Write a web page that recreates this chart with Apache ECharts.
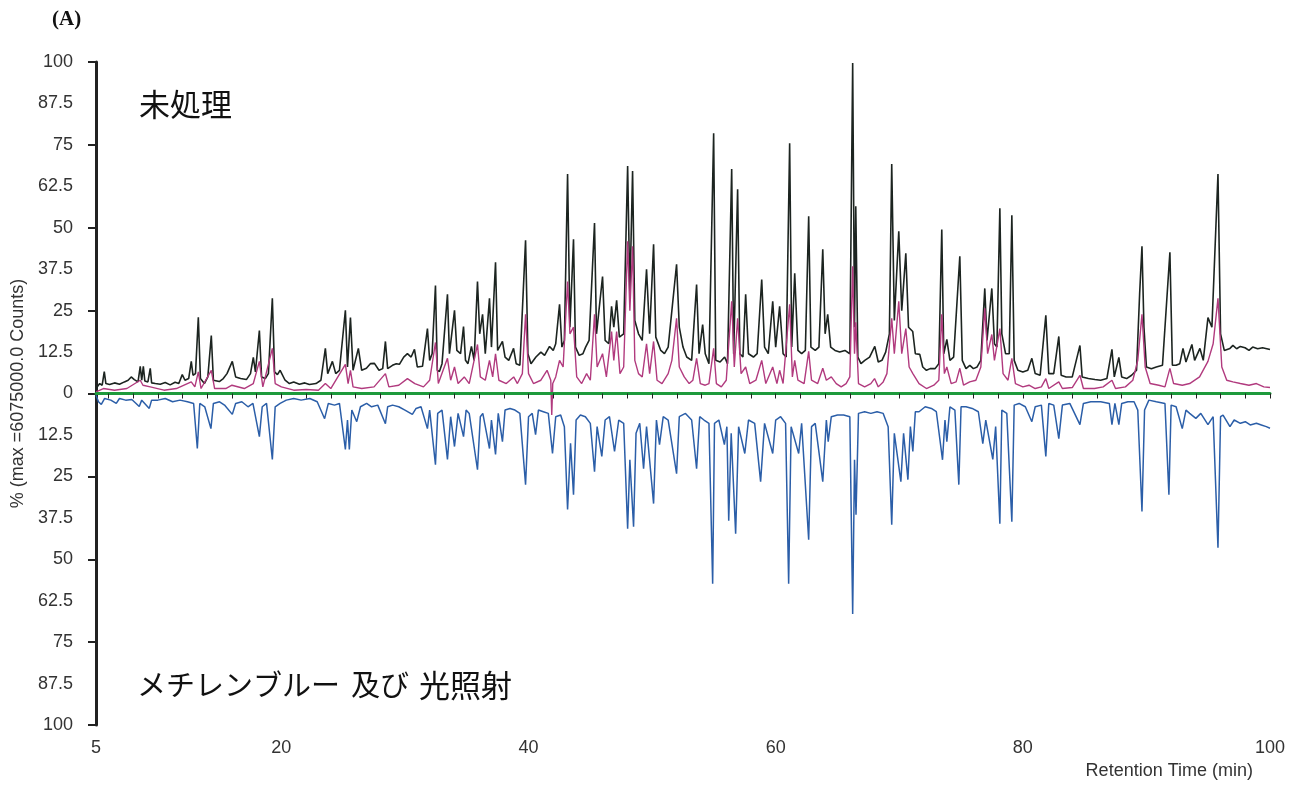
<!DOCTYPE html>
<html>
<head>
<meta charset="utf-8">
<script src="https://cdn.jsdelivr.net/npm/echarts@6/dist/echarts.min.js"></script>
<style>
html,body{margin:0;padding:0;background:#fff;}
#chart{width:1296px;height:786px;}
</style>
</head>
<body>
<div id="chart"></div>
<script>
// ---- data (retention time in min, intensity in % of max) ----
const xLabelValues = [5, 20, 40, 60, 80, 100];
const xTickValues = [6,8,10,12,14,16,18,20,22,24,26,28,30,32,34,36,38,40,42,44,46,48,50,52,54,56,58,60,62,64,66,68,70,72,74,76,78,80,82,84,86,88,90,92,94,96,98,100];
const yTickValues = [-100,-75,-50,-25,0,25,50,75,100];

// untreated (black)
const blackTrace = [
[5.0,1.5],[5.3,3.0],[5.5,2.5],[5.67,6.6],[5.8,3.0],[6.1,2.7],[6.5,3.2],[6.9,2.8],[7.3,3.5],[7.6,4.0],[7.85,5.0],[8.1,4.2],[8.4,3.5],[8.58,8.2],[8.7,4.0],[8.83,8.2],[8.95,3.8],[9.2,3.5],[9.39,7.6],[9.5,3.2],[9.8,3.0],[10.2,2.8],[10.6,3.3],[11.0,2.6],[11.4,3.4],[11.7,3.0],[11.98,5.7],[12.2,4.0],[12.5,4.5],[12.71,9.7],[12.85,5.5],[13.05,6.0],[13.28,23.0],[13.45,4.5],[13.77,3.0],[14.05,5.0],[14.33,17.5],[14.5,4.0],[14.98,3.6],[15.3,4.5],[15.6,6.0],[16.03,9.7],[16.3,5.0],[16.7,4.5],[17.17,4.2],[17.5,6.0],[17.73,10.9],[17.9,6.5],[18.22,19.0],[18.4,5.0],[18.7,4.5],[18.95,6.0],[19.27,28.7],[19.45,6.5],[19.68,5.7],[19.9,7.0],[20.3,4.0],[20.65,3.0],[21.0,3.5],[21.46,2.8],[21.9,3.2],[22.27,2.7],[22.8,3.0],[23.2,4.0],[23.56,13.6],[23.75,6.0],[24.13,9.7],[24.4,6.0],[24.7,7.0],[25.18,25.1],[25.35,8.0],[25.59,22.9],[25.8,7.0],[26.23,13.6],[26.5,7.0],[26.88,7.6],[27.2,9.0],[27.53,9.1],[27.9,7.0],[28.2,7.5],[28.42,15.7],[28.6,7.5],[28.99,8.5],[29.3,9.0],[29.55,8.8],[29.9,11.0],[30.2,12.0],[30.5,11.0],[30.77,13.3],[31.0,8.0],[31.42,8.2],[31.82,19.6],[32.0,10.0],[32.2,12.0],[32.47,32.6],[32.62,7.0],[32.79,6.6],[33.0,9.0],[33.44,29.9],[33.6,12.0],[34.01,25.1],[34.2,13.0],[34.5,12.0],[34.74,20.2],[34.9,10.0],[35.1,9.0],[35.38,14.2],[35.6,10.0],[35.87,33.8],[36.05,18.0],[36.28,23.9],[36.5,12.0],[36.84,28.7],[37.0,14.0],[37.33,39.6],[37.5,13.0],[37.89,15.7],[38.1,11.0],[38.4,10.0],[38.79,13.6],[39.0,9.0],[39.3,8.5],[39.76,46.2],[39.95,12.0],[40.2,9.0],[40.6,11.0],[41.0,12.5],[41.3,11.5],[41.7,14.2],[42.0,13.0],[42.2,15.0],[42.51,26.9],[42.7,14.0],[42.9,16.0],[43.16,66.2],[43.35,20.0],[43.64,46.5],[43.8,14.0],[44.1,11.5],[44.4,12.0],[44.62,14.0],[44.9,16.0],[45.34,51.4],[45.5,18.0],[45.99,35.3],[46.2,16.0],[46.5,15.0],[46.72,26.3],[46.9,20.0],[47.13,28.1],[47.35,17.0],[47.7,18.0],[48.02,68.6],[48.2,30.0],[48.42,67.1],[48.6,22.0],[48.9,18.0],[49.2,16.0],[49.55,37.5],[49.8,18.0],[50.12,45.0],[50.3,17.0],[50.7,13.0],[51.0,12.0],[51.3,14.0],[51.98,39.0],[52.2,20.0],[52.5,14.0],[52.8,11.0],[53.2,10.0],[53.6,32.9],[53.8,12.0],[54.09,20.8],[54.3,12.0],[54.6,9.0],[54.98,78.5],[55.15,10.0],[55.5,9.5],[55.87,11.0],[56.1,9.0],[56.44,67.7],[56.6,12.0],[56.92,61.6],[57.1,12.0],[57.35,11.0],[57.57,29.9],[57.8,12.0],[58.2,11.0],[58.5,12.0],[58.87,34.4],[59.1,14.0],[59.4,12.0],[59.76,27.8],[60.0,14.0],[60.32,26.3],[60.6,12.0],[60.85,11.0],[61.13,75.5],[61.3,14.0],[61.54,36.3],[61.8,13.0],[62.1,12.0],[62.4,13.0],[62.67,53.5],[62.85,14.0],[63.2,13.0],[63.5,14.0],[63.81,43.5],[64.0,18.0],[64.21,23.9],[64.45,14.0],[64.8,13.0],[65.18,12.5],[65.6,13.0],[66.0,12.0],[66.23,99.7],[66.38,20.0],[66.48,56.5],[66.65,11.0],[66.9,9.0],[67.21,10.0],[67.6,11.0],[68.02,14.2],[68.3,9.5],[68.6,10.0],[68.9,12.5],[69.2,18.0],[69.39,69.2],[69.6,22.0],[69.96,48.9],[70.2,25.0],[70.53,42.3],[70.75,20.0],[71.09,18.7],[71.3,12.0],[71.66,11.8],[71.9,8.0],[72.2,7.0],[72.5,7.5],[72.9,7.5],[73.2,9.0],[73.44,49.5],[73.6,12.0],[73.85,16.3],[74.1,10.0],[74.4,11.0],[74.9,41.4],[75.1,10.0],[75.4,7.5],[75.71,8.5],[76.0,7.5],[76.3,8.0],[76.6,10.0],[76.92,31.7],[77.1,16.0],[77.49,31.7],[77.7,15.0],[77.9,14.0],[78.14,55.9],[78.3,18.0],[78.6,12.0],[78.9,12.0],[79.11,53.8],[79.3,10.0],[79.6,7.0],[80.0,6.5],[80.4,7.0],[80.73,10.6],[81.0,6.0],[81.4,5.5],[81.86,23.6],[82.1,6.0],[82.5,6.0],[82.91,17.2],[83.1,5.5],[83.5,5.0],[84.0,5.0],[84.62,14.5],[84.8,5.0],[85.3,4.5],[85.83,4.2],[86.3,4.0],[86.8,4.5],[87.21,13.3],[87.4,5.0],[87.77,10.9],[88.0,5.0],[88.4,4.5],[88.8,5.5],[89.2,7.0],[89.45,30.0],[89.64,44.4],[89.8,20.0],[90.0,8.0],[90.4,7.5],[90.8,8.0],[91.3,8.5],[91.9,42.6],[92.1,8.5],[92.4,8.5],[92.7,9.0],[92.96,13.6],[93.2,9.5],[93.68,14.8],[93.9,10.0],[94.33,13.6],[94.6,10.0],[94.98,22.9],[95.3,20.0],[95.79,66.2],[96.0,18.0],[96.3,13.0],[96.76,13.6],[97.0,14.5],[97.3,13.5],[97.6,14.2],[97.98,13.8],[98.3,13.0],[98.6,14.0],[99.0,13.5],[99.4,13.8],[100,13.3]
];

// magenta trace
const magentaTrace = [
[5.0,0.5],[5.6,1.5],[6.5,1.0],[7.5,1.5],[8.58,4.0],[8.8,2.5],[9.39,2.0],[10.5,1.0],[11.5,1.5],[12.71,3.5],[13.0,2.0],[13.28,6.5],[13.5,1.5],[14.33,7.0],[14.6,1.5],[15.5,1.5],[16.0,2.5],[17.0,1.5],[17.73,3.0],[18.22,9.7],[18.5,2.0],[19.27,13.6],[19.5,3.0],[20.0,2.0],[21.0,1.0],[22.0,1.2],[23.0,1.0],[23.56,3.0],[24.0,1.5],[25.18,8.8],[25.4,3.0],[25.59,7.0],[25.8,2.0],[26.5,1.5],[27.5,2.0],[28.42,6.0],[28.7,2.0],[29.5,2.5],[30.2,4.5],[30.8,3.0],[31.5,2.0],[32.0,4.0],[32.47,15.4],[32.7,3.0],[33.44,10.6],[33.7,4.0],[34.01,8.0],[34.3,3.0],[34.8,5.0],[35.2,3.0],[35.87,14.8],[36.1,5.0],[36.5,4.0],[36.84,10.0],[37.1,5.0],[37.33,12.0],[37.6,4.0],[38.2,3.0],[38.8,5.0],[39.1,3.0],[39.5,6.0],[39.76,23.9],[40.0,6.0],[40.4,3.0],[41.0,4.0],[41.5,7.0],[41.8,4.0],[41.88,-6.5],[41.96,3.0],[42.2,5.0],[42.51,10.0],[42.8,8.0],[43.16,33.8],[43.35,18.0],[43.64,20.0],[43.9,5.0],[44.3,3.0],[44.7,6.0],[45.0,4.0],[45.34,23.9],[45.55,8.0],[45.99,12.0],[46.3,5.0],[46.72,18.7],[46.9,10.0],[47.13,18.7],[47.4,6.0],[47.7,8.0],[48.02,45.9],[48.2,25.0],[48.42,44.4],[48.6,10.0],[48.9,6.0],[49.2,5.0],[49.55,15.0],[49.8,6.0],[50.12,15.7],[50.4,4.0],[50.8,3.0],[51.3,6.0],[51.6,10.0],[51.98,22.7],[52.2,8.0],[52.6,5.0],[53.0,3.0],[53.3,4.0],[53.6,10.6],[53.9,3.0],[54.3,2.5],[54.6,3.0],[54.98,13.6],[55.2,3.0],[55.6,2.0],[56.0,4.0],[56.44,27.8],[56.65,8.0],[56.92,22.7],[57.2,6.0],[57.57,8.0],[57.9,3.0],[58.4,4.0],[58.87,10.0],[59.2,3.0],[59.76,8.0],[60.1,3.0],[60.32,7.0],[60.6,3.0],[61.13,26.9],[61.35,5.0],[61.54,10.0],[61.8,4.0],[62.3,3.0],[62.67,12.7],[62.9,4.0],[63.4,3.0],[63.81,7.6],[64.1,4.0],[64.5,5.0],[64.9,3.0],[65.3,2.0],[65.7,3.0],[66.0,5.0],[66.23,38.4],[66.38,12.0],[66.48,21.5],[66.7,3.0],[67.2,2.0],[67.7,3.0],[68.0,4.5],[68.3,2.0],[68.7,3.5],[69.0,6.0],[69.39,22.7],[69.6,12.0],[69.96,27.8],[70.2,12.0],[70.53,19.6],[70.8,8.0],[71.1,6.0],[71.6,3.0],[72.2,1.5],[72.8,2.5],[73.2,4.0],[73.44,23.9],[73.65,6.0],[73.85,8.0],[74.2,3.0],[74.6,3.5],[74.9,7.6],[75.2,2.5],[75.7,3.5],[76.2,4.0],[76.6,8.0],[76.92,25.7],[77.15,12.0],[77.49,17.8],[77.7,10.0],[78.14,19.6],[78.4,6.0],[78.8,4.0],[79.11,10.6],[79.4,3.0],[80.0,2.0],[80.5,2.5],[81.0,1.5],[81.5,2.0],[81.86,4.5],[82.1,1.5],[82.91,3.5],[83.2,1.5],[84.0,1.8],[84.62,5.5],[84.9,1.5],[85.8,1.5],[86.5,2.0],[87.21,4.0],[87.5,1.5],[88.3,2.0],[88.9,4.0],[89.3,10.0],[89.64,23.9],[89.9,8.0],[90.3,3.0],[91.0,2.5],[91.5,2.0],[91.9,7.6],[92.2,3.0],[92.9,2.5],[93.5,3.0],[94.3,5.0],[94.98,9.7],[95.4,15.0],[95.79,28.7],[96.1,8.0],[96.5,4.0],[97.0,3.5],[97.6,3.0],[98.3,2.5],[98.9,3.0],[99.5,2.0],[100,1.8]
];

// methylene blue + light irradiation (blue, plotted downward)
const blueTrace = [
[5.0,-0.5],[5.2,-2.5],[5.43,-3.3],[5.7,-1.5],[6.2,-2.0],[6.64,-3.0],[6.9,-1.5],[7.4,-2.0],[7.9,-1.8],[8.5,-3.9],[8.7,-2.0],[9.31,-4.5],[9.5,-2.0],[10.0,-2.0],[10.6,-1.5],[11.2,-2.5],[11.8,-2.0],[12.4,-2.5],[12.9,-3.0],[13.2,-16.6],[13.4,-3.0],[13.8,-4.0],[14.3,-10.6],[14.5,-3.0],[15.0,-2.5],[15.4,-3.5],[16.03,-6.3],[16.3,-3.0],[16.8,-2.5],[17.3,-4.0],[17.7,-3.0],[18.22,-13.0],[18.45,-4.0],[18.8,-3.0],[19.27,-19.9],[19.5,-4.0],[19.9,-3.0],[20.4,-2.0],[21.0,-1.5],[21.6,-2.0],[22.3,-1.5],[22.9,-2.5],[23.5,-7.6],[23.8,-3.0],[24.3,-3.5],[24.7,-3.0],[25.18,-16.9],[25.35,-8.0],[25.5,-16.9],[25.7,-5.0],[26.1,-8.5],[26.4,-4.0],[26.9,-3.0],[27.3,-4.0],[27.8,-3.5],[28.42,-9.1],[28.6,-4.0],[29.0,-3.5],[29.5,-4.0],[30.0,-5.0],[30.6,-6.3],[30.9,-4.5],[31.3,-4.0],[31.82,-10.6],[32.0,-5.0],[32.47,-21.5],[32.65,-6.0],[33.0,-5.0],[33.44,-19.9],[33.7,-7.0],[34.01,-16.0],[34.3,-6.0],[34.74,-13.0],[34.95,-5.0],[35.2,-6.0],[35.87,-23.0],[36.1,-7.0],[36.3,-6.0],[36.84,-16.6],[37.0,-8.0],[37.33,-18.4],[37.55,-6.0],[37.89,-14.5],[38.1,-5.0],[38.5,-4.5],[38.9,-5.0],[39.3,-6.0],[39.76,-27.5],[40.0,-7.0],[40.3,-6.0],[40.57,-12.4],[40.8,-5.0],[41.2,-5.5],[41.6,-6.0],[41.94,-18.1],[42.2,-7.0],[42.6,-6.5],[42.9,-10.0],[43.16,-35.0],[43.4,-15.0],[43.64,-30.5],[43.85,-8.0],[44.2,-6.5],[44.6,-7.0],[45.0,-9.0],[45.34,-23.6],[45.55,-10.0],[45.93,-19.0],[46.2,-8.0],[46.55,-7.0],[46.96,-17.5],[47.3,-8.0],[47.7,-9.0],[48.02,-40.8],[48.2,-20.0],[48.5,-40.2],[48.7,-12.0],[49.0,-9.0],[49.31,-22.7],[49.55,-10.0],[50.12,-33.2],[50.35,-8.0],[50.6,-15.4],[50.9,-7.0],[51.3,-8.0],[51.98,-24.2],[52.2,-7.0],[52.7,-6.0],[53.2,-8.0],[53.6,-22.7],[53.85,-7.0],[54.2,-8.0],[54.6,-9.0],[54.9,-57.4],[55.05,-9.0],[55.4,-8.0],[55.85,-15.4],[56.05,-10.0],[56.2,-38.4],[56.4,-12.0],[56.76,-42.3],[57.0,-10.0],[57.5,-18.1],[57.8,-8.0],[58.3,-9.0],[58.78,-26.6],[59.1,-9.0],[59.76,-18.1],[60.0,-8.0],[60.4,-7.0],[60.8,-9.0],[61.05,-57.4],[61.25,-10.0],[61.86,-18.1],[62.1,-9.0],[62.67,-44.1],[62.9,-10.0],[63.2,-9.0],[63.81,-26.6],[64.1,-8.0],[64.25,-14.5],[64.5,-7.0],[65.0,-6.5],[65.5,-6.5],[66.0,-7.0],[66.23,-66.5],[66.38,-20.0],[66.5,-36.6],[66.7,-6.0],[67.2,-5.5],[67.7,-6.0],[68.2,-5.5],[68.7,-6.0],[69.1,-10.0],[69.39,-39.6],[69.6,-12.0],[70.13,-26.6],[70.35,-12.0],[70.7,-26.0],[70.9,-10.0],[71.1,-17.5],[71.3,-5.5],[71.6,-5.5],[72.1,-4.0],[72.6,-4.5],[73.0,-5.5],[73.5,-20.0],[73.7,-8.0],[73.85,-14.5],[74.1,-4.0],[74.5,-5.0],[74.82,-27.5],[75.0,-4.0],[75.4,-4.0],[75.9,-4.5],[76.4,-5.5],[76.76,-15.1],[77.0,-8.0],[77.57,-19.9],[77.8,-10.0],[78.14,-39.3],[78.3,-5.0],[78.7,-6.0],[79.11,-38.7],[79.3,-3.5],[79.7,-3.0],[80.2,-4.0],[80.73,-8.5],[81.0,-4.0],[81.5,-3.5],[81.86,-19.0],[82.1,-3.0],[82.5,-3.5],[82.91,-13.6],[83.2,-3.5],[83.8,-3.0],[84.62,-9.4],[84.9,-3.0],[85.5,-2.5],[86.3,-2.5],[87.0,-3.0],[87.21,-9.4],[87.45,-3.0],[87.77,-9.4],[88.0,-3.0],[88.5,-2.5],[89.0,-2.5],[89.3,-5.0],[89.64,-35.6],[89.85,-5.0],[90.2,-2.0],[90.8,-2.5],[91.5,-3.0],[91.82,-30.5],[92.0,-3.5],[92.4,-4.0],[92.9,-10.6],[93.2,-5.0],[93.5,-6.0],[94.0,-7.5],[94.4,-6.0],[94.98,-9.4],[95.4,-7.0],[95.79,-46.5],[96.0,-7.0],[96.2,-6.5],[96.76,-10.0],[97.1,-8.0],[97.6,-9.0],[98.0,-8.5],[98.4,-9.5],[98.9,-9.0],[99.3,-9.5],[99.7,-10.0],[100,-10.5]
];

const FONT = "'Liberation Sans', Arial, sans-serif";
const CJK = "'Noto Sans CJK JP', sans-serif";

const chart = echarts.init(document.getElementById('chart'), null, {renderer: 'canvas'});
chart.setOption({
  animation: false,
  backgroundColor: '#ffffff',
  grid: {left: 96, right: 26, top: 62, bottom: 61, containLabel: false, outerBoundsMode: 'none'},
  xAxis: [
    {
      type: 'value', min: 5, max: 100, position: 'bottom',
      axisLine: {show: false, onZero: false},
      axisTick: {show: false},
      splitLine: {show: false},
      axisLabel: {customValues: xLabelValues, color: '#333', fontFamily: FONT, fontSize: 18, margin: 14}
    },
    {
      type: 'value', min: 5, max: 100, position: 'top', z: 10,
      axisLine: {show: true, onZero: true, lineStyle: {color: '#1e9a3c', width: 3}},
      axisTick: {show: true, inside: true, customValues: xTickValues, length: 5, lineStyle: {color: '#222', width: 1}},
      axisLabel: {show: false},
      splitLine: {show: false}
    }
  ],
  yAxis: {
    type: 'value', min: -100, max: 100, interval: 12.5,
    name: '% (max =6075000.0 Counts)', nameLocation: 'middle', nameGap: 62,
    nameTextStyle: {color: '#333', fontFamily: FONT, fontSize: 18},
    axisLine: {show: true, lineStyle: {color: '#222', width: 3}},
    axisTick: {show: true, customValues: yTickValues, length: 8, lineStyle: {color: '#222', width: 2}},
    axisLabel: {color: '#333', fontFamily: FONT, fontSize: 18, margin: 23,
      formatter: v => String(Math.abs(v))},
    splitLine: {show: false}
  },
  series: [
    {type: 'line', name: 'untreated', data: blackTrace, showSymbol: false, symbol: 'none',
     lineStyle: {color: '#1c2420', width: 1.6}, z: 3},
    {type: 'line', name: 'magenta', data: magentaTrace, showSymbol: false, symbol: 'none',
     lineStyle: {color: '#b13a7e', width: 1.4}, z: 4},
    {type: 'line', name: 'methylene blue', data: blueTrace, showSymbol: false, symbol: 'none',
     lineStyle: {color: '#2b5ea8', width: 1.5}, z: 3}
  ],
  graphic: [
    {type: 'text', left: 52, top: 9, style: {text: '(A)', fill: '#111', font: "bold 21px 'Liberation Serif', 'Times New Roman', serif"}},
    {type: 'text', left: 139, top: 89, style: {text: '未処理', fill: '#111', font: "31px " + CJK}},
    {type: 'text', left: 137, top: 670, style: {text: 'メチレンブルー', fill: '#111', font: "29px " + CJK}},
    {type: 'text', left: 351, top: 670, style: {text: '及び', fill: '#111', font: "29px " + CJK}},
    {type: 'text', left: 419, top: 670, style: {text: '光照射', fill: '#111', font: "31px " + CJK}},
    {type: 'text', right: 43, top: 762, style: {text: 'Retention Time (min)', fill: '#333', font: "18px " + FONT}}
  ]
});
</script>
</body>
</html>
